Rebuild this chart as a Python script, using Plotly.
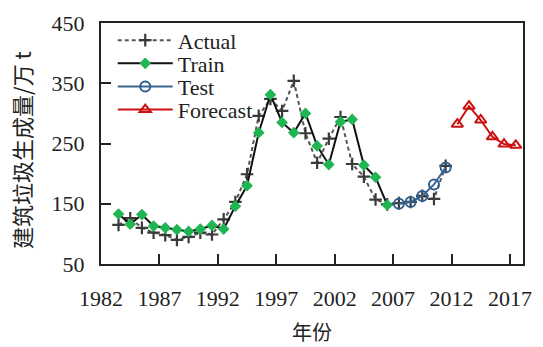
import plotly.graph_objects as go

# ---- data ----
actual_years = list(range(1983, 2012))
actual_vals = [115, 126, 110, 102, 98, 90, 95, 102, 99, 124, 153, 199, 296, 324, 304, 354,
               267, 218, 258, 294, 216, 195, 157, 149, 151, 153, 163, 158, 213]

train_years = list(range(1983, 2007))
train_vals = [133, 116, 132, 113, 110, 107, 104, 108, 114, 108, 146, 180, 268, 331, 285, 268,
              300, 246, 215, 286, 290, 214, 194, 148]

test_years = list(range(2007, 2012))
test_vals = [150, 153, 163, 182, 210]

forecast_years = list(range(2012, 2018))
forecast_vals = [282, 312, 289, 261, 249, 247]

x_tick_labels = ["1982", "1987", "1992", "1997", "2002", "2007", "2012", "2017"]
y_ticks = [50, 150, 250, 350, 450]

serif = "Liberation Serif"
tick_serif = "Times New Roman"
cjk = "Noto Sans CJK SC"
ink = "#222222"

W, H = 543, 347
ML, MR, MT, MB = 101, 11, 14, 83
plot_w = W - ML - MR
plot_h = H - MT - MB


def py(px):
    return 1 - (px - MT) / plot_h


def pxx(px):
    return (px - ML) / plot_w


fig = go.Figure()

fig.add_trace(go.Scatter(
    x=actual_years, y=actual_vals, name="Actual", mode="lines+markers", legend="legend",
    line=dict(color="#555555", width=2, dash="4px,3px"),
    marker=dict(symbol="cross-thin", size=9, line=dict(color="#3a3a3a", width=2.2), color="#3a3a3a"),
))
fig.add_trace(go.Scatter(
    x=train_years, y=train_vals, name="Train", mode="lines+markers", legend="legend2",
    line=dict(color="#111111", width=2),
    marker=dict(symbol="diamond", size=9, color="#1fb552", line=dict(width=0)),
))
fig.add_trace(go.Scatter(
    x=test_years, y=test_vals, name="Test", mode="lines+markers", legend="legend3",
    line=dict(color="#3a6690", width=2),
    marker=dict(symbol="circle-open", size=10, color="#2f5f8f", line=dict(width=2)),
))
fig.add_trace(go.Scatter(
    x=forecast_years, y=forecast_vals, name="Forecast", mode="lines+markers", legend="legend4",
    line=dict(color="#cc1111", width=2),
    marker=dict(symbol="triangle-up-open", size=10, color="#cc1111", line=dict(width=2)),
))

leg_rows = [32, 56, 80, 104]
leg_common = dict(x=pxx(113), xanchor="left", yanchor="middle", bgcolor="rgba(0,0,0,0)",
                  font=dict(family=serif, size=22, color=ink), itemwidth=55, borderwidth=0)

fig.update_layout(
    width=W, height=H,
    margin=dict(l=ML, r=MR, t=MT, b=MB),
    paper_bgcolor="white", plot_bgcolor="white",
    font=dict(family=serif, size=22, color=ink),
    showlegend=True,
    legend=dict(y=py(leg_rows[0]), **leg_common),
    legend2=dict(y=py(leg_rows[1]), **leg_common),
    legend3=dict(y=py(leg_rows[2]), **leg_common),
    legend4=dict(y=py(leg_rows[3]), **leg_common),
    annotations=[
        dict(text="建筑垃圾生成量/万 t", x=pxx(20), y=py(146), xref="paper", yref="paper",
             showarrow=False, textangle=-90, font=dict(family=cjk, size=22, color=ink),
             xanchor="center", yanchor="middle"),
        dict(text="年份", x=0.5, y=py(334), xref="paper", yref="paper",
             showarrow=False, font=dict(family=cjk, size=20, color=ink),
             xanchor="center", yanchor="middle"),
    ],
)

fig.update_xaxes(
    range=[1981.5, 2017.62],
    tickvals=[int(t) - 0.5 for t in x_tick_labels], ticktext=x_tick_labels,
    ticks="inside", ticklen=10, tickwidth=2, tickcolor=ink,
    showline=True, linewidth=2, linecolor=ink, mirror=True,
    showgrid=False, zeroline=False, ticklabelstandoff=14,
    tickfont=dict(family=tick_serif, size=22, color=ink),
)
fig.update_yaxes(
    range=[50, 450], tickvals=y_ticks,
    ticks="inside", ticklen=10, tickwidth=2, tickcolor=ink,
    showline=True, linewidth=2, linecolor=ink, mirror=True,
    showgrid=False, zeroline=False, ticklabelstandoff=10,
    tickfont=dict(family=tick_serif, size=22, color=ink),
)

fig.write_html("out.html")
